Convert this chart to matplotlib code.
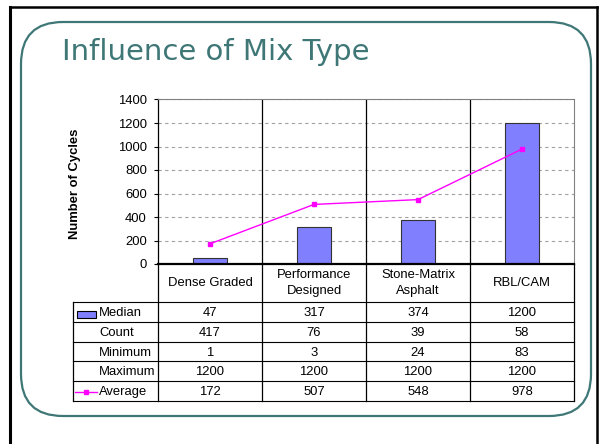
import matplotlib.pyplot as plt
from matplotlib.patches import FancyBboxPatch, Rectangle
from matplotlib.lines import Line2D

# data
categories = ["Dense Graded", "Performance\nDesigned", "Stone-Matrix\nAsphalt", "RBL/CAM"]
median = [47, 317, 374, 1200]
count = [417, 76, 39, 58]
minimum = [1, 3, 24, 83]
maximum = [1200, 1200, 1200, 1200]
average = [172, 507, 548, 978]
row_names = ["Median", "Count", "Minimum", "Maximum", "Average"]
y_ticks = [0, 200, 400, 600, 800, 1000, 1200, 1400]

BAR = "#8080FF"
AVG = "#FF00FF"
TEAL = "#3F7777"
FONT = "Liberation Sans"
FS = 9.4

W, H = 600, 444
fig = plt.figure(figsize=(W / 100, H / 100), dpi=100)

# background axes in pixel units (slide frame, title, table)
bg = fig.add_axes([0, 0, 1, 1])
bg.set_xlim(0, W)
bg.set_ylim(H, 0)
bg.axis("off")

# slide frame
bg.add_line(Line2D([10, 10], [7, H], color="black", lw=2.2))
bg.add_line(Line2D([10, 597], [7, 7], color="black", lw=1.8))
bg.add_line(Line2D([597, 597], [7, H], color="black", lw=1.8))
bg.add_patch(FancyBboxPatch((21, 22), 570, 394, boxstyle="round,pad=0,rounding_size=42",
                            fill=False, edgecolor=TEAL, lw=1.6))
bg.text(62, 60, "Influence of Mix Type", fontsize=21, color=TEAL,
        family="DejaVu Sans", ha="left", va="baseline")

# chart
x0, x1, ytop, y0 = 158, 574, 99.5, 264
ax = fig.add_axes([x0 / W, (H - y0) / H, (x1 - x0) / W, (y0 - ytop) / H])
xs = range(len(median))
ax.bar(xs, median, width=0.33, color=BAR, edgecolor="#333333", lw=0.8, zorder=3)
ax.plot(xs, average, color=AVG, lw=1, marker="s", ms=3.5, zorder=4)
for b in [0.5, 1.5, 2.5]:
    ax.axvline(b, color="black", lw=0.9, zorder=2)
ax.set_xlim(-0.5, 3.5)
ax.set_ylim(0, 1400)
ax.set_yticks(y_ticks)
ax.set_yticklabels([str(v) for v in y_ticks], family=FONT, fontsize=FS)
ax.set_xticks([])
ax.tick_params(axis="y", direction="out", length=3, width=0.8, pad=5)
ax.grid(axis="y", ls=(0, (3, 3)), color="#A0A0A0", lw=0.8, zorder=1)
ax.spines["left"].set_linewidth(0.9)
ax.spines["bottom"].set_linewidth(1.6)
ax.spines["top"].set_color("#808080")
ax.spines["right"].set_color("#808080")
ax.spines["bottom"].set_zorder(5)

bg.text(75, 184, "Number of Cycles", rotation=90, ha="center", va="center",
        family=FONT, fontsize=FS, fontweight="bold")

# data table under the chart
col_w = (x1 - x0) / len(categories)
centers = [x0 + col_w * (i + 0.5) for i in range(len(categories))]
tl, ttop, rh = 73, 302, 19.8
tbot = ttop + rh * len(row_names)

for cx, lab in zip(centers, categories):
    bg.text(cx, 283, lab, ha="center", va="center", family=FONT, fontsize=FS,
            linespacing=1.45)

for xv in [x0 + col_w * i for i in range(len(categories) + 1)]:
    bg.add_line(Line2D([xv, xv], [y0, tbot], color="black", lw=0.9))
bg.add_line(Line2D([tl, tl], [ttop, tbot], color="black", lw=0.9))
for i in range(len(row_names) + 1):
    yy = ttop + rh * i
    bg.add_line(Line2D([tl, x1], [yy, yy], color="black", lw=0.8))

rows = [median, count, minimum, maximum, average]
for i, (name, vals) in enumerate(zip(row_names, rows)):
    yc = ttop + rh * (i + 0.5) + 1
    bg.text(99, yc, name, ha="left", va="center", family=FONT, fontsize=FS)
    for cx, v in zip(centers, vals):
        bg.text(cx, yc, str(v), ha="center", va="center", family=FONT, fontsize=FS)

# legend keys in the table
bg.add_patch(Rectangle((77, ttop + 9), 19, 6.5, facecolor=BAR, edgecolor="black", lw=0.8))
ya = ttop + rh * 4.5 + 1
bg.add_line(Line2D([75, 97], [ya, ya], color=AVG, lw=1))
bg.add_line(Line2D([86], [ya], color=AVG, marker="s", ms=3.5, lw=0))

fig.savefig("out.png", dpi=100)
